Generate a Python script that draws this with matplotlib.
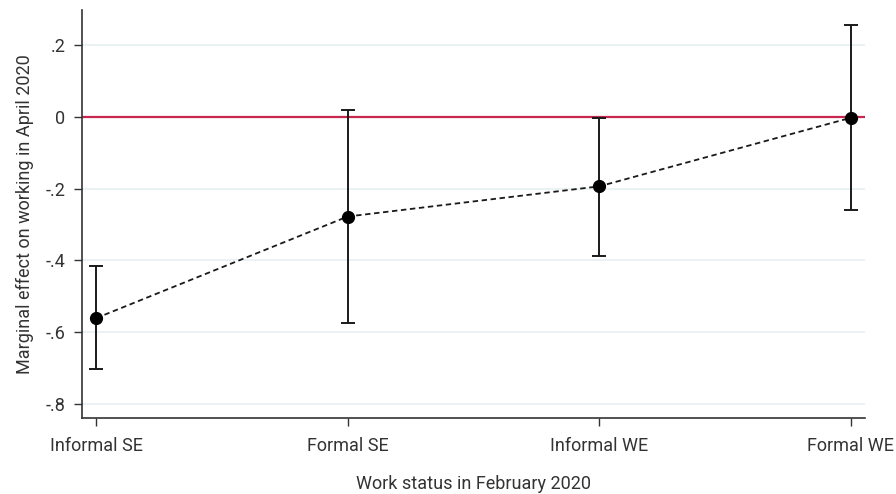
import matplotlib
matplotlib.use("Agg")
import matplotlib.pyplot as plt

plt.rcParams['font.family'] = ['Roboto', 'DejaVu Sans']

categories = ["Informal SE", "Formal SE", "Informal WE", "Formal WE"]
effects = [-0.561, -0.278, -0.194, -0.003]
ci_low = [-0.703, -0.575, -0.389, -0.261]
ci_high = [-0.417, 0.019, -0.003, 0.256]

yticks = [-0.8, -0.6, -0.4, -0.2, 0, 0.2]
ylabels = ["-.8", "-.6", "-.4", "-.2", "0", ".2"]

fig = plt.figure(figsize=(8.96, 4.94), dpi=100)
ax = fig.add_axes([82/896, 76/494, (865-82)/896, (418-10)/494])

x = range(len(categories))
for yy in yticks:
    ax.axhline(yy, color="#e8f0f1", lw=1.2, zorder=0)
ax.axhline(0, color="#c8264f", lw=1.6, zorder=1)

yerr = [[e - l for e, l in zip(effects, ci_low)], [h - e for e, h in zip(effects, ci_high)]]
ax.errorbar(x, effects, yerr=yerr, fmt="none", ecolor="#1a1a1a", elinewidth=1.4,
            capsize=5, capthick=1.4, zorder=2)
ax.plot(x, effects, ls=(0, (3, 2)), color="#1a1a1a", lw=1.3, marker="o",
        markersize=8.5, markerfacecolor="black", markeredgecolor="black", zorder=3)

ax.set_xlim(-0.056, 3.056)
ax.set_ylim(-0.839, 0.297)
ax.set_xticks(list(x))
ax.set_xticklabels(categories)
ax.set_yticks(yticks)
ax.set_yticklabels(ylabels)
ax.tick_params(axis="both", labelsize=13, colors="#333333", length=6, width=1, pad=6)
ax.tick_params(axis="x", pad=8)
for side in ["top", "right"]:
    ax.spines[side].set_visible(False)
for side in ["left", "bottom"]:
    ax.spines[side].set_color("#333333")
    ax.spines[side].set_linewidth(1.2)

ax.set_xlabel("Work status in February 2020", fontsize=13, color="#333333", labelpad=14)
ax.set_ylabel("Marginal effect on working in April 2020", fontsize=13, color="#333333", labelpad=8)

fig.savefig("out.png", dpi=100)
